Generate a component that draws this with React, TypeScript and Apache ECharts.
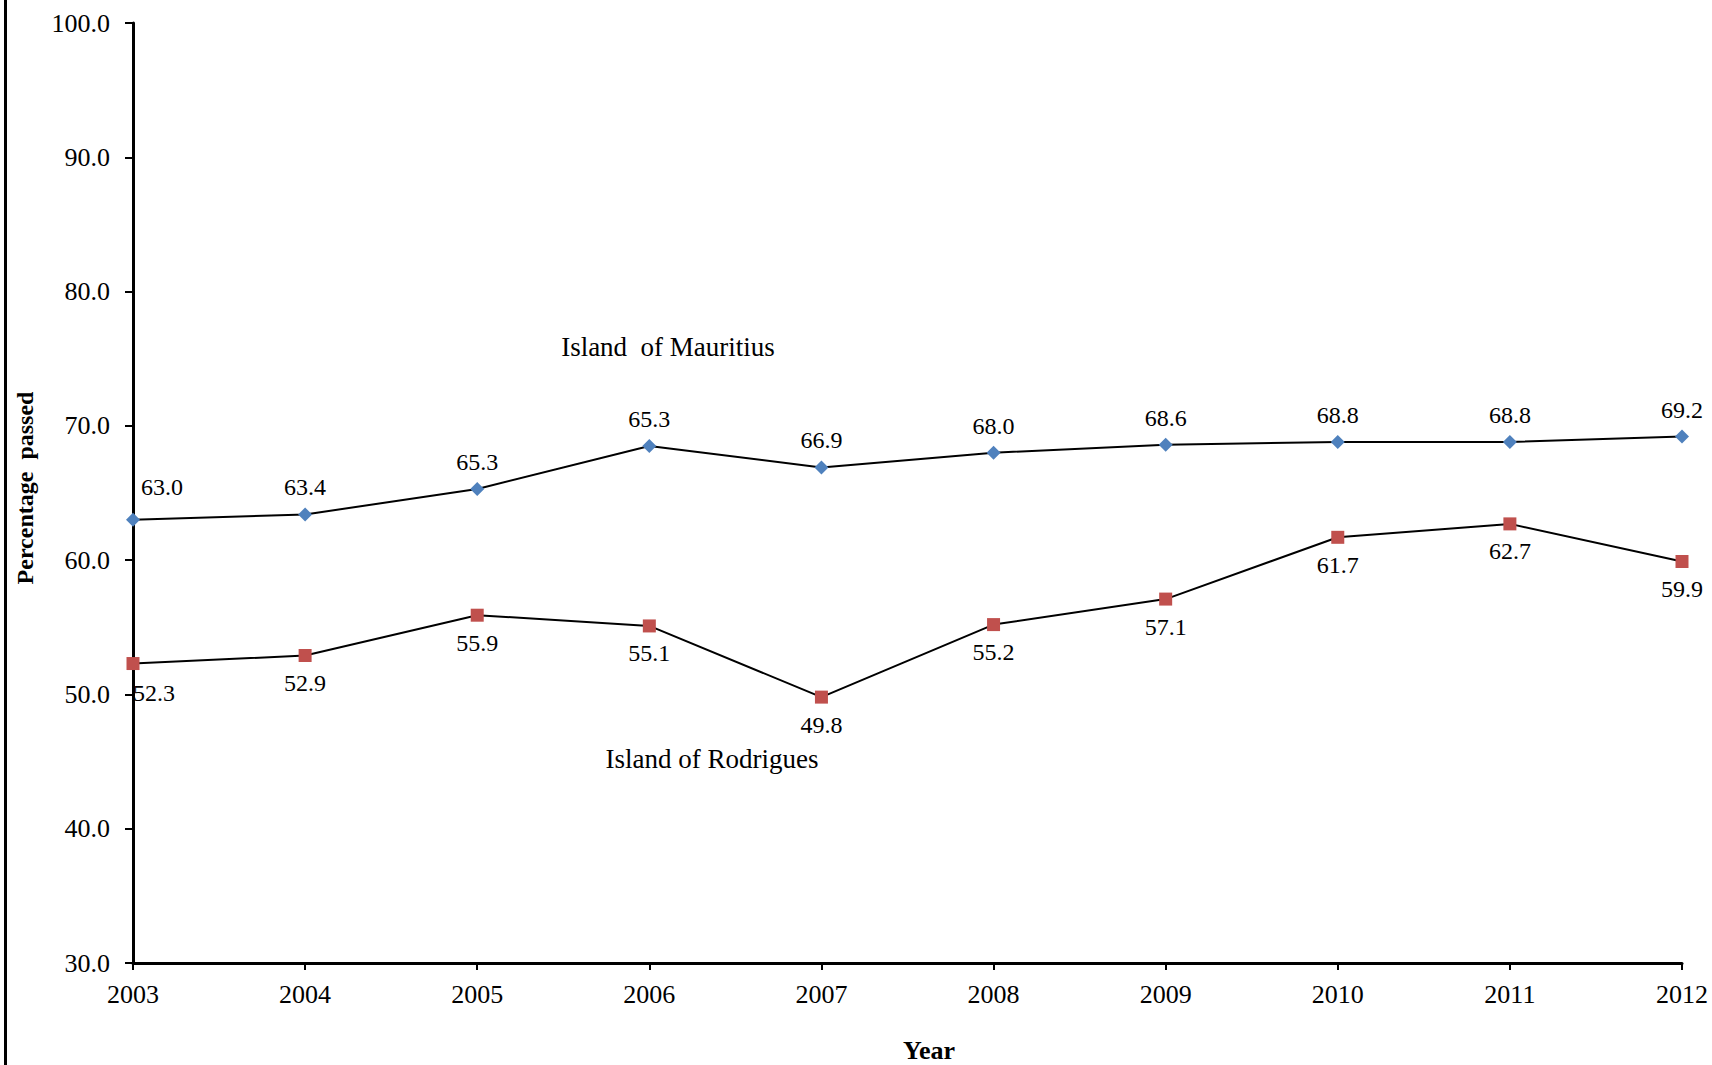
import React, { useEffect, useRef } from "react";
import * as echarts from "echarts";

const years = ["2003", "2004", "2005", "2006", "2007", "2008", "2009", "2010", "2011", "2012"];
const mauritiusValues = [63.0, 63.4, 65.3, 68.5, 66.9, 68.0, 68.6, 68.8, 68.8, 69.2];
const mauritiusLabels = ["63.0", "63.4", "65.3", "65.3", "66.9", "68.0", "68.6", "68.8", "68.8", "69.2"];
const rodriguesValues = [52.3, 52.9, 55.9, 55.1, 49.8, 55.2, 57.1, 61.7, 62.7, 59.9];
const rodriguesLabels = ["52.3", "52.9", "55.9", "55.1", "49.8", "55.2", "57.1", "61.7", "62.7", "59.9"];
const yTicks = { min: 30, max: 100, interval: 10 };
const yAxisTitle = "Percentage  passed";
const xAxisTitle = "Year";
const mauritiusName = "Island  of Mauritius";
const rodriguesName = "Island of Rodrigues";

const FONT = "'Liberation Serif', 'Times New Roman', serif";

export default function App() {
  const ref = useRef<HTMLDivElement>(null);
  useEffect(() => {
    if (!ref.current) return;
    const chart = echarts.init(ref.current, null, { renderer: "svg" });
    const mkData = (vals: number[], labels: string[], below: boolean) =>
      vals.map((v, i) => {
        const item: any = { value: v, labelText: labels[i] };
        if (i === 0) {
          item.label = below ? { offset: [21, 2] } : { offset: [29, -6] };
        }
        return item;
      });
    chart.setOption({
      animation: false,
      backgroundColor: "#ffffff",
      textStyle: { fontFamily: FONT },
      grid: { left: 133, right: 30, top: 23, bottom: 102, containLabel: false },
      xAxis: {
        type: "category",
        data: years,
        boundaryGap: false,
        axisLine: { lineStyle: { color: "#000", width: 3 } },
        axisTick: { show: true, alignWithLabel: true, length: 7, lineStyle: { color: "#000", width: 2 } },
        axisLabel: { color: "#000", fontSize: 26, fontFamily: FONT, margin: 18 },
        splitLine: { show: false },
      },
      yAxis: {
        type: "value",
        min: yTicks.min,
        max: yTicks.max,
        interval: yTicks.interval,
        axisLine: { show: true, lineStyle: { color: "#000", width: 3 } },
        axisTick: { show: true, length: 8, lineStyle: { color: "#000", width: 2 } },
        axisLabel: {
          color: "#000",
          fontSize: 26,
          fontFamily: FONT,
          margin: 23,
          formatter: (v: number) => v.toFixed(1),
        },
        splitLine: { show: false },
      },
      series: [
        {
          type: "line",
          name: "Mauritius",
          data: mkData(mauritiusValues, mauritiusLabels, false),
          symbol: "diamond",
          symbolSize: 14,
          itemStyle: { color: "#4F81BD" },
          lineStyle: { color: "#000", width: 2 },
          label: {
            show: true,
            position: "top",
            distance: 8,
            color: "#000",
            fontSize: 24,
            fontFamily: FONT,
            formatter: (p: any) => p.data.labelText,
          },
          z: 3,
        },
        {
          type: "line",
          name: "Rodrigues",
          data: mkData(rodriguesValues, rodriguesLabels, true),
          symbol: "rect",
          symbolSize: 13,
          itemStyle: { color: "#C0504D" },
          lineStyle: { color: "#000", width: 2 },
          label: {
            show: true,
            position: "bottom",
            distance: 9,
            color: "#000",
            fontSize: 24,
            fontFamily: FONT,
            formatter: (p: any) => p.data.labelText,
          },
          z: 3,
        },
      ],
      graphic: [
        {
          type: "rect",
          shape: { x: 4, y: 0, width: 3, height: 1065 },
          style: { fill: "#000" },
        },
        {
          type: "text",
          x: 25,
          y: 488,
          rotation: Math.PI / 2,
          style: {
            text: yAxisTitle,
            font: `bold 24px ${FONT}`,
            fill: "#000",
            textAlign: "center",
            textVerticalAlign: "middle",
          },
        },
        {
          type: "text",
          x: 929,
          y: 1050,
          style: {
            text: xAxisTitle,
            font: `bold 26px ${FONT}`,
            fill: "#000",
            textAlign: "center",
            textVerticalAlign: "middle",
          },
        },
        {
          type: "text",
          x: 668,
          y: 347,
          style: {
            text: mauritiusName,
            font: `27px ${FONT}`,
            fill: "#000",
            textAlign: "center",
            textVerticalAlign: "middle",
          },
        },
        {
          type: "text",
          x: 712,
          y: 759,
          style: {
            text: rodriguesName,
            font: `27px ${FONT}`,
            fill: "#000",
            textAlign: "center",
            textVerticalAlign: "middle",
          },
        },
      ],
    });
    return () => chart.dispose();
  }, []);
  return (
    <div
      ref={ref}
      style={{ position: "fixed", left: 0, top: 0, width: 1712, height: 1065, background: "#fff" }}
    />
  );
}
